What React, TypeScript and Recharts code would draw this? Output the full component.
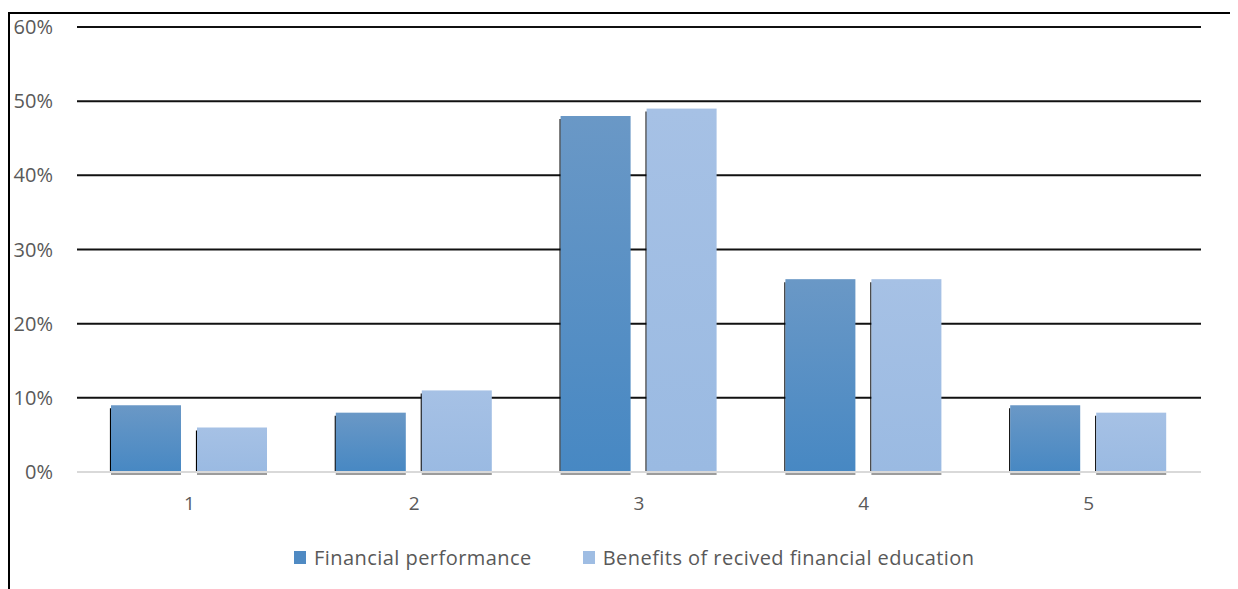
import { BarChart, Bar, XAxis, YAxis, CartesianGrid, Legend } from 'recharts';

const categories = ['1', '2', '3', '4', '5'];
const financialPerformance = [9, 8, 48, 26, 9];
const benefitsOfEducation = [6, 11, 49, 26, 8];
const yTicks = [0, 10, 20, 30, 40, 50, 60];

const data = categories.map((name, i) => ({
  name,
  perf: financialPerformance[i],
  benefits: benefitsOfEducation[i],
}));

const FONT = '"Open Sans", "Noto Sans", sans-serif';
const TEXT = '#595959';

const ShadowBar = (props: any) => {
  const { x, y, width, height, fill } = props;
  if (!height || height <= 0) return null;
  return (
    <g>
      <line x1={x - 0.5} y1={y + 3} x2={x - 0.5} y2={y + height} stroke="#000" strokeWidth={1.2} />
      <rect x={x} y={y} width={width} height={height} fill={fill} />
      <line x1={x} y1={y + height + 2} x2={x + width} y2={y + height + 2} stroke="#3a3a3a" strokeWidth={1.2} />
    </g>
  );
};

const YTick = ({ y, payload }: any) => (
  <text x={43} y={y} dy={7} textAnchor="end" fill={TEXT} fontSize={20} fontFamily={FONT}>
    {`${payload.value}%`}
  </text>
);

const XTick = ({ x, y, payload }: any) => (
  <text x={x} y={y} dy={30} textAnchor="middle" fill={TEXT} fontSize={19} fontFamily={FONT}>
    {payload.value}
  </text>
);

const LegendContent = () => (
  <div style={{ display: 'flex', alignItems: 'center', fontFamily: FONT, fontSize: 20, color: TEXT, marginLeft: 284 }}>
    <span style={{ width: 12, height: 13, background: '#4f8ac3', marginRight: 8 }} />
    <span style={{ marginRight: 51, letterSpacing: 0.45 }}>Financial performance</span>
    <span style={{ width: 12, height: 13, background: '#9fbde3', marginRight: 8 }} />
    <span style={{ letterSpacing: 0.45 }}>Benefits of recived financial education</span>
  </div>
);

export default function App() {
  return (
    <div
      style={{
        marginTop: 4,
        width: 1230,
        height: 577,
        boxSizing: 'border-box',
        borderTop: '2px solid #000',
        borderLeft: '2px solid #000',
        background: '#fff',
      }}
    >
      <BarChart
        width={1228}
        height={575}
        data={data}
        margin={{ top: 13, right: 37, left: 0, bottom: 87 }}
        barCategoryGap={34}
        barGap={16}
      >
        <defs>
          <linearGradient id="gradPerf" x1="0" y1="0" x2="0" y2="1">
            <stop offset="0%" stopColor="#6a98c6" />
            <stop offset="100%" stopColor="#4788c3" />
          </linearGradient>
          <linearGradient id="gradBen" x1="0" y1="0" x2="0" y2="1">
            <stop offset="0%" stopColor="#a6c1e5" />
            <stop offset="100%" stopColor="#9abae2" />
          </linearGradient>
        </defs>
        <CartesianGrid
          vertical={false}
          horizontalValues={[10, 20, 30, 40, 50, 60]}
          stroke="#111"
          strokeWidth={2}
        />
        <XAxis
          dataKey="name"
          axisLine={{ stroke: '#d9d9d9', strokeWidth: 2 }}
          tickLine={false}
          tick={<XTick />}
        />
        <YAxis
          width={67}
          domain={[0, 60]}
          ticks={yTicks}
          axisLine={false}
          tickLine={false}
          tick={<YTick />}
        />
        <Legend
          verticalAlign="middle"
          align="center"
          wrapperStyle={{ top: 530, left: 0, width: 1228 }}
          content={<LegendContent />}
        />
        <Bar dataKey="perf" name="Financial performance" fill="url(#gradPerf)" shape={<ShadowBar />} isAnimationActive={false} />
        <Bar dataKey="benefits" name="Benefits of recived financial education" fill="url(#gradBen)" shape={<ShadowBar />} isAnimationActive={false} />
      </BarChart>
    </div>
  );
}
